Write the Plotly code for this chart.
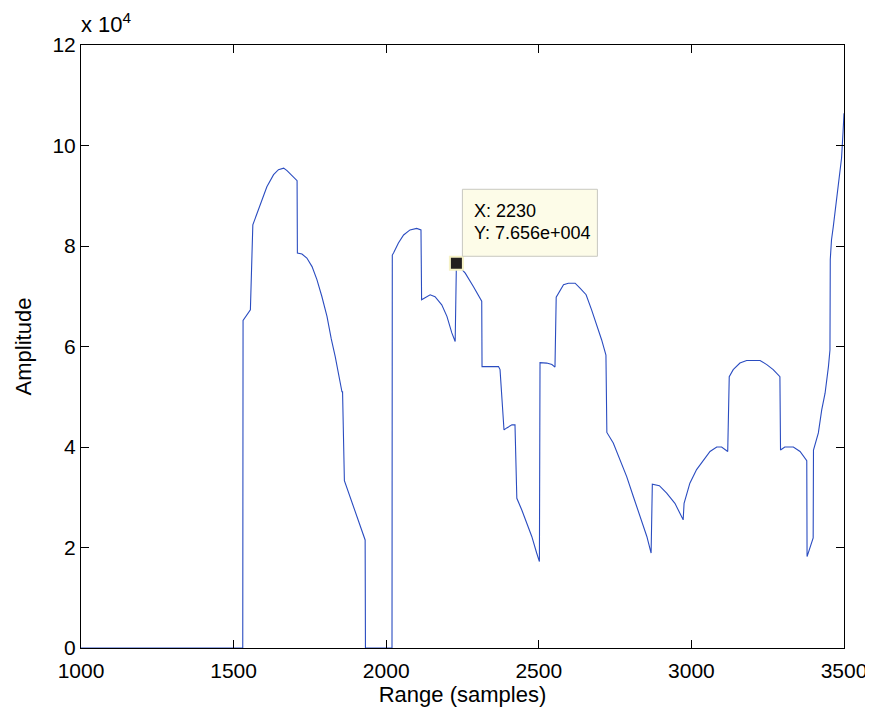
import plotly.graph_objects as go

# ---- data ----
range_samples = [1000, 1530, 1531, 1555, 1563, 1571, 1582, 1593, 1609, 1631, 1647, 1664, 1675, 1708,
                 1709, 1724, 1740, 1757, 1773, 1789, 1806, 1820, 1833, 1855, 1857, 1863, 1888, 1909,
                 1931, 1932, 2019, 2020, 2024, 2040, 2057, 2078, 2100, 2114, 2116, 2144, 2160, 2182,
                 2199, 2215, 2226, 2230, 2259, 2286, 2308, 2313, 2314, 2368, 2373, 2386, 2395, 2412,
                 2422, 2428, 2444, 2461, 2477, 2493, 2502, 2504, 2526, 2543, 2553, 2557, 2570, 2581,
                 2597, 2619, 2635, 2655, 2673, 2690, 2706, 2720, 2723, 2744, 2766, 2788, 2810, 2832,
                 2854, 2868, 2872, 2895, 2919, 2946, 2963, 2973, 2976, 2995, 3017, 3039, 3061, 3083,
                 3099, 3119, 3124, 3137, 3159, 3181, 3225, 3247, 3268, 3290, 3292, 3306, 3334, 3356,
                 3378, 3379, 3388, 3399, 3400, 3416, 3427, 3438, 3449, 3454, 3455, 3459, 3465, 3473,
                 3484, 3492, 3497, 3500]
amplitude = [0, 0, 65200, 67300, 84200, 85500, 87200, 89200, 91800, 94200, 95200, 95500, 95000, 93000,
             78600, 78400, 77600, 75900, 73300, 70000, 66000, 61500, 58000, 51000, 51000, 33300, 28800, 25200,
             21500, 0, 0, 78200, 78600, 80600, 82200, 83200, 83500, 83200, 69300, 70300, 69900, 68300,
             66000, 62700, 61000, 76560, 74600, 71900, 69600, 69000, 56000, 56000, 55400, 43400, 43800, 44400,
             44400, 29800, 27500, 24800, 22200, 18900, 17200, 56800, 56700, 56400, 55900, 69800, 71300, 72300,
             72600, 72600, 71600, 70300, 67300, 64300, 61300, 58300, 42900, 40800, 37400, 34100, 30100, 26200,
             22200, 18900, 32600, 32300, 30800, 28800, 26800, 25500, 28800, 32800, 35500, 37400, 39100, 40000,
             40000, 39100, 54000, 55400, 56700, 57200, 57200, 56400, 55400, 54000, 39400, 40000, 40000, 39100,
             37300, 18200, 19900, 21900, 39400, 42800, 47400, 50700, 56000, 59300, 77300, 81200, 83900, 87900,
             93800, 97500, 102800, 106400]

tip_x = 2230
tip_y = 76560

x_ticks = [1000, 1500, 2000, 2500, 3000, 3500]
y_ticks = [0, 20000, 40000, 60000, 80000, 100000, 120000]
y_tick_labels = ["0", "2", "4", "6", "8", "10", "12"]

FONT = "Liberation Sans, Arial, Helvetica, sans-serif"

fig = go.Figure()
fig.add_trace(go.Scatter(x=range_samples, y=amplitude, mode="lines",
                         line=dict(color="#2a4cc0", width=1.1), hoverinfo="skip"))
fig.add_trace(go.Scatter(x=[tip_x], y=[tip_y], mode="markers",
                         marker=dict(symbol="square", size=13, color="#231f20",
                                     line=dict(color="#f6f2c6", width=2)),
                         hoverinfo="skip"))

# data tip box
fig.add_shape(type="rect", xref="x", yref="y", xsizemode="pixel", ysizemode="pixel",
              xanchor=tip_x, yanchor=tip_y, x0=6, x1=141, y0=7, y1=74,
              fillcolor="#fdfce8", line=dict(color="#c8c8c0", width=1), layer="above")
fig.add_annotation(x=tip_x, y=tip_y, xref="x", yref="y", text=f"X: {tip_x}",
                   showarrow=False, xanchor="left", yanchor="middle", xshift=16, yshift=52,
                   font=dict(family=FONT, size=18, color="black"))
fig.add_annotation(x=tip_x, y=tip_y, xref="x", yref="y", text="Y: 7.656e+004",
                   showarrow=False, xanchor="left", yanchor="middle", xshift=16, yshift=30,
                   font=dict(family=FONT, size=18, color="black"))

# exponent label
fig.add_annotation(x=0, y=1, xref="paper", yref="paper", text="x 10<sup>4</sup>",
                   showarrow=False, xanchor="left", yanchor="bottom", xshift=-2, yshift=6,
                   font=dict(family=FONT, size=22, color="black"))

axis_common = dict(showline=True, linecolor="black", linewidth=1, mirror="ticks",
                   ticks="inside", ticklen=8, tickcolor="black", tickwidth=1,
                   showgrid=False, zeroline=False,
                   tickfont=dict(family=FONT, size=21, color="black"))

fig.update_layout(
    width=865, height=705,
    margin=dict(l=73, r=29, t=37, b=65, autoexpand=False),
    paper_bgcolor="white", plot_bgcolor="white",
    showlegend=False,
    xaxis=dict(range=[1000, 3500], tickvals=x_ticks, ticklabelstandoff=4,
               title=dict(text="Range (samples)", font=dict(family=FONT, size=22, color="black"),
                          standoff=2),
               **axis_common),
    yaxis=dict(range=[0, 120000], tickvals=y_ticks, ticktext=y_tick_labels,
               ticklabelstandoff=0,
               title=dict(text="Amplitude", font=dict(family=FONT, size=22, color="black"),
                          standoff=14),
               **axis_common),
)

fig.write_html("out.html")
